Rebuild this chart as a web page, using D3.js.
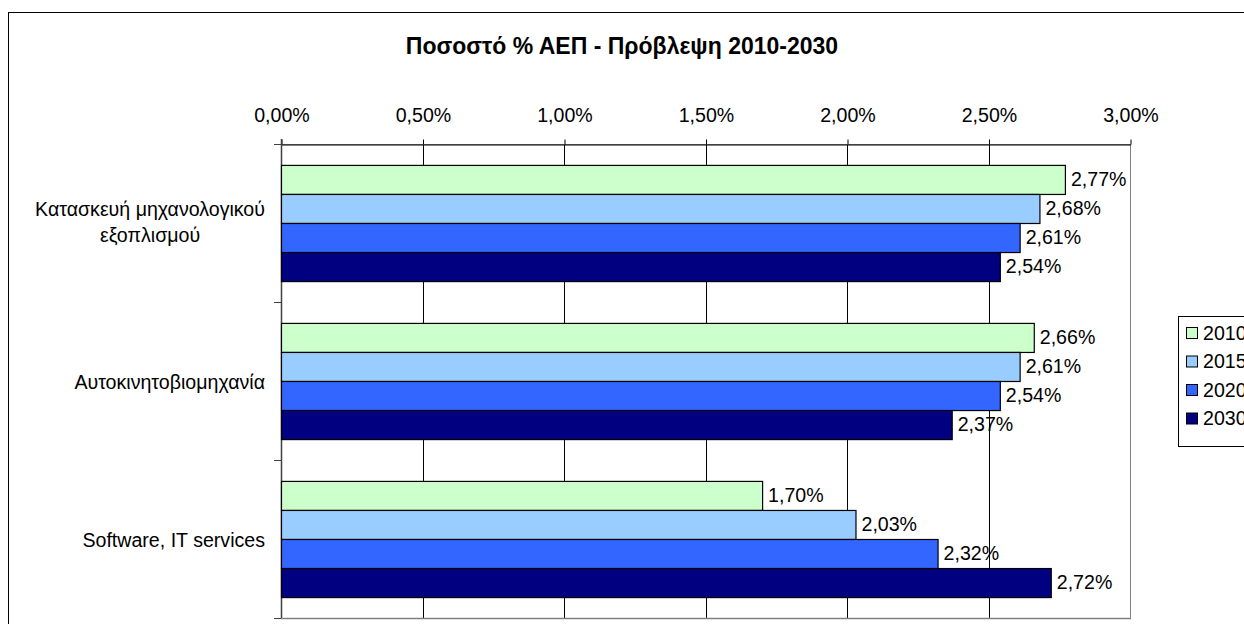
<!DOCTYPE html>
<html>
<head>
<meta charset="utf-8">
<script src="https://cdn.jsdelivr.net/npm/d3@7"></script>
<style>
html,body{margin:0;padding:0;background:#fff;}
svg text{font-family:"Liberation Sans",Arial,sans-serif;fill:#000;}
</style>
</head>
<body>
<svg id="chart" width="1244" height="624"></svg>
<script>
// δεδομένα
var categories=["Κατασκευή μηχανολογικού εξοπλισμού","Αυτοκινητοβιομηχανία","Software, IT services"];
var years=["2010","2015","2020","2030"];
var v2010=[2.77,2.66,1.70];
var v2015=[2.68,2.61,2.03];
var v2020=[2.61,2.54,2.32];
var v2030=[2.54,2.37,2.72];
var xTicks=[0,0.5,1,1.5,2,2.5,3];
var colors=["#CCFFCC","#99CCFF","#3366FF","#000080"];
var titleText="Ποσοστό % ΑΕΠ - Πρόβλεψη 2010-2030";

var series=[v2010,v2015,v2020,v2030];
var rows=categories.map(function(c,i){
	return {name:c,vals:years.map(function(y,j){return {year:y,val:series[j][i]};})};
});

var svg=d3.select("#chart");
var fmt=function(v){return v.toFixed(2).replace(".",",")+"%";};
var fs="19.6px";

// outer frame
svg.append("rect").attr("x",8.5).attr("y",12.5).attr("width",1300).attr("height",700)
	.attr("fill","#fff").attr("stroke","#000").attr("stroke-width",1);

svg.append("text").attr("x",622).attr("y",54).attr("text-anchor","middle")
	.style("font-size","23px").style("font-weight","bold").text(titleText);

var pL=281,pR=1130,pT=144,pB=618;
var x=d3.scaleLinear().domain([0,3]).range([pL,pR]);
var y0=d3.scaleBand().domain(categories).range([pT,pB]);
var y1=d3.scaleBand().domain(years).range([0,y0.bandwidth()]).paddingInner(0).paddingOuter(0.72);
var color=d3.scaleOrdinal().domain(years).range(colors);

// gridlines
svg.append("g").selectAll("line").data(xTicks.slice(1,-1)).enter().append("line")
	.attr("x1",function(d){return Math.round(x(d))+0.5;}).attr("x2",function(d){return Math.round(x(d))+0.5;})
	.attr("y1",pT).attr("y2",pB).attr("stroke","#000").attr("stroke-width",1);

// plot border
svg.append("rect").attr("x",pL+0.5).attr("y",pT+0.5).attr("width",pR-pL).attr("height",pB-pT)
	.attr("fill","none").attr("stroke","#808080").attr("stroke-width",1);

// top axis
var xAxis=d3.axisTop(x).tickValues(xTicks).tickSize(5).tickSizeOuter(0).tickPadding(18).tickFormat(fmt);
var gx=svg.append("g").attr("transform","translate(0.5,"+(pT+0.5)+")").call(xAxis);
gx.select(".domain").attr("stroke","#000");
gx.selectAll(".tick line").attr("stroke","#000");
gx.selectAll(".tick text").style("font-size",fs).attr("fill","#000");

// left axis
var yTickPos=d3.range(categories.length+1).map(function(i){return pT+i*y0.step();});
var gy=svg.append("g");
gy.append("line").attr("x1",pL+0.5).attr("x2",pL+0.5).attr("y1",pT-5).attr("y2",pB+1)
	.attr("stroke","#404040").attr("stroke-width",1.5);
gy.selectAll(".ytick").data(yTickPos).enter().append("line").attr("class","ytick")
	.attr("x1",pL-7).attr("x2",pL).attr("y1",function(d){return Math.round(d)+0.5;}).attr("y2",function(d){return Math.round(d)+0.5;})
	.attr("stroke","#404040").attr("stroke-width",1);
svg.append("line").attr("x1",pL).attr("x2",pR+1).attr("y1",pB+0.5).attr("y2",pB+0.5)
	.attr("stroke","#808080").attr("stroke-width",1.5);

// bars
var groups=svg.append("g").selectAll("g").data(rows).enter().append("g")
	.attr("transform",function(d){return "translate(0,"+y0(d.name)+")";});
groups.selectAll("rect").data(function(d){return d.vals;}).enter().append("rect")
	.attr("x",pL+0.5).attr("y",function(d){return y1(d.year)+0.5;})
	.attr("width",function(d){return x(d.val)-pL;}).attr("height",y1.bandwidth())
	.attr("fill",function(d){return color(d.year);}).attr("stroke","#000").attr("stroke-width",1.2);
groups.selectAll("text").data(function(d){return d.vals;}).enter().append("text")
	.attr("x",function(d){return x(d.val)+6;}).attr("y",function(d){return y1(d.year)+y1.bandwidth()/2;})
	.attr("dy","0.35em").style("font-size",fs).text(function(d){return fmt(d.val);});

// category labels (wrapped, centered block, right aligned to axis)
var labelRight=265,maxW=255,lineH=26;
rows.forEach(function(r){
	var words=r.name.split(" ");
	var meas=svg.append("text").style("font-size",fs);
	var lines=[],cur="";
	words.forEach(function(w){
		var t=cur?cur+" "+w:w;
		meas.text(t);
		if(meas.node().getComputedTextLength()>maxW&&cur){lines.push(cur);cur=w;}else{cur=t;}
	});
	lines.push(cur);
	var widths=lines.map(function(l){meas.text(l);return meas.node().getComputedTextLength();});
	meas.remove();
	var bw=d3.max(widths),cx=labelRight-bw/2;
	var cy=y0(r.name)+y0.bandwidth()/2+(lines.length>1?-1:1);
	var t=svg.append("text").attr("text-anchor","middle").style("font-size",fs);
	lines.forEach(function(l,i){
		t.append("tspan").attr("x",cx).attr("y",cy+(i-(lines.length-1)/2)*lineH).attr("dy","0.35em").text(l);
	});
});

// legend
var lg=svg.append("g").attr("transform","translate(1178,316)");
lg.append("rect").attr("x",0.5).attr("y",0.5).attr("width",120).attr("height",130)
	.attr("fill","#fff").attr("stroke","#000").attr("stroke-width",1);
var li=lg.selectAll(".li").data(years).enter().append("g").attr("class","li")
	.attr("transform",function(d,i){return "translate(0,"+(17+i*28.5)+")";});
li.append("rect").attr("x",8.5).attr("y",-5.5).attr("width",11).attr("height",11)
	.attr("fill",function(d){return color(d);}).attr("stroke","#000").attr("stroke-width",1);
li.append("text").attr("x",25).attr("y",0).attr("dy","0.35em").style("font-size",fs).text(function(d){return d;});
</script>
</body>
</html>
